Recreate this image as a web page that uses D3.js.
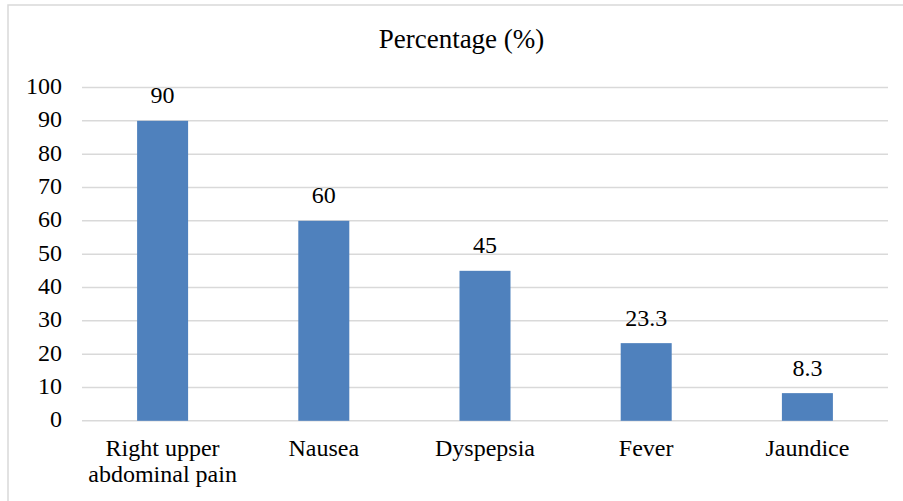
<!DOCTYPE html>
<html>
<head>
<meta charset="utf-8">
<script src="https://cdn.jsdelivr.net/npm/d3@7"></script>
<style>
  html, body { margin: 0; padding: 0; background: #fff; }
  svg { display: block; }
</style>
</head>
<body>
<svg id="chart" width="903" height="501"></svg>
<script>
// Symptom frequencies (percent of patients)
const categories = [["Right upper", "abdominal pain"], ["Nausea"], ["Dyspepsia"], ["Fever"], ["Jaundice"]];
const values = [90, 60, 45, 23.3, 8.3];
const yTicks = [0, 10, 20, 30, 40, 50, 60, 70, 80, 90, 100];
const chartTitle = "Percentage (%)";

const FONT = "Liberation Serif";
const LABEL_SIZE = 24;

const svg = d3.select("#chart");

// outer chart frame
svg.append("rect")
  .attr("x", 8).attr("y", 5)
  .attr("width", 905).attr("height", 505)
  .attr("fill", "#fff")
  .attr("stroke", "#d9d9d9").attr("stroke-width", 1.5);

const plot = { left: 82, right: 888, top: 87.5, bottom: 420.8 };

const x = d3.scaleBand()
  .domain(d3.range(values.length))
  .range([plot.left, plot.right]);

const y = d3.scaleLinear()
  .domain([0, 100])
  .range([plot.bottom, plot.top]);

// title
svg.append("text")
  .attr("x", 461.5).attr("y", 48)
  .attr("text-anchor", "middle")
  .attr("font-family", FONT)
  .attr("font-size", 27)
  .attr("fill", "#000")
  .text(chartTitle);

// gridlines
svg.append("g")
  .selectAll("line")
  .data(yTicks)
  .join("line")
  .attr("x1", plot.left).attr("x2", plot.right)
  .attr("y1", d => y(d)).attr("y2", d => y(d))
  .attr("stroke", "#d9d9d9").attr("stroke-width", 1.5);

// y axis labels
const yAxis = d3.axisLeft(y).tickValues(yTicks).tickSize(0).tickPadding(20);
const yg = svg.append("g")
  .attr("transform", `translate(${plot.left},0)`)
  .call(yAxis)
  .attr("font-family", FONT)
  .attr("font-size", LABEL_SIZE);
yg.select(".domain").remove();
yg.selectAll("text")
  .attr("fill", "#000")
  .attr("dy", "0.25em");

// bars
const barW = 51;
svg.append("g")
  .selectAll("rect")
  .data(values)
  .join("rect")
  .attr("x", (d, i) => x(i) + x.bandwidth() / 2 - barW / 2)
  .attr("width", barW)
  .attr("y", d => y(d))
  .attr("height", d => y(0) - y(d))
  .attr("fill", "#4f81bd");

// value labels
svg.append("g")
  .attr("font-family", FONT)
  .attr("font-size", LABEL_SIZE)
  .selectAll("text")
  .data(values)
  .join("text")
  .attr("x", (d, i) => x(i) + x.bandwidth() / 2)
  .attr("y", d => y(d) - 17.5)
  .attr("text-anchor", "middle")
  .attr("fill", "#000")
  .text(d => d);

// category labels
const cat = svg.append("g")
  .attr("font-family", FONT)
  .attr("font-size", LABEL_SIZE)
  .selectAll("text")
  .data(categories)
  .join("text")
  .attr("x", (d, i) => x(i) + x.bandwidth() / 2)
  .attr("y", 456)
  .attr("text-anchor", "middle")
  .attr("fill", "#000");
cat.selectAll("tspan")
  .data(d => d)
  .join("tspan")
  .attr("x", function () { return d3.select(this.parentNode).attr("x"); })
  .attr("dy", (d, i) => i === 0 ? 0 : 25.7)
  .text(d => d);
</script>
</body>
</html>
